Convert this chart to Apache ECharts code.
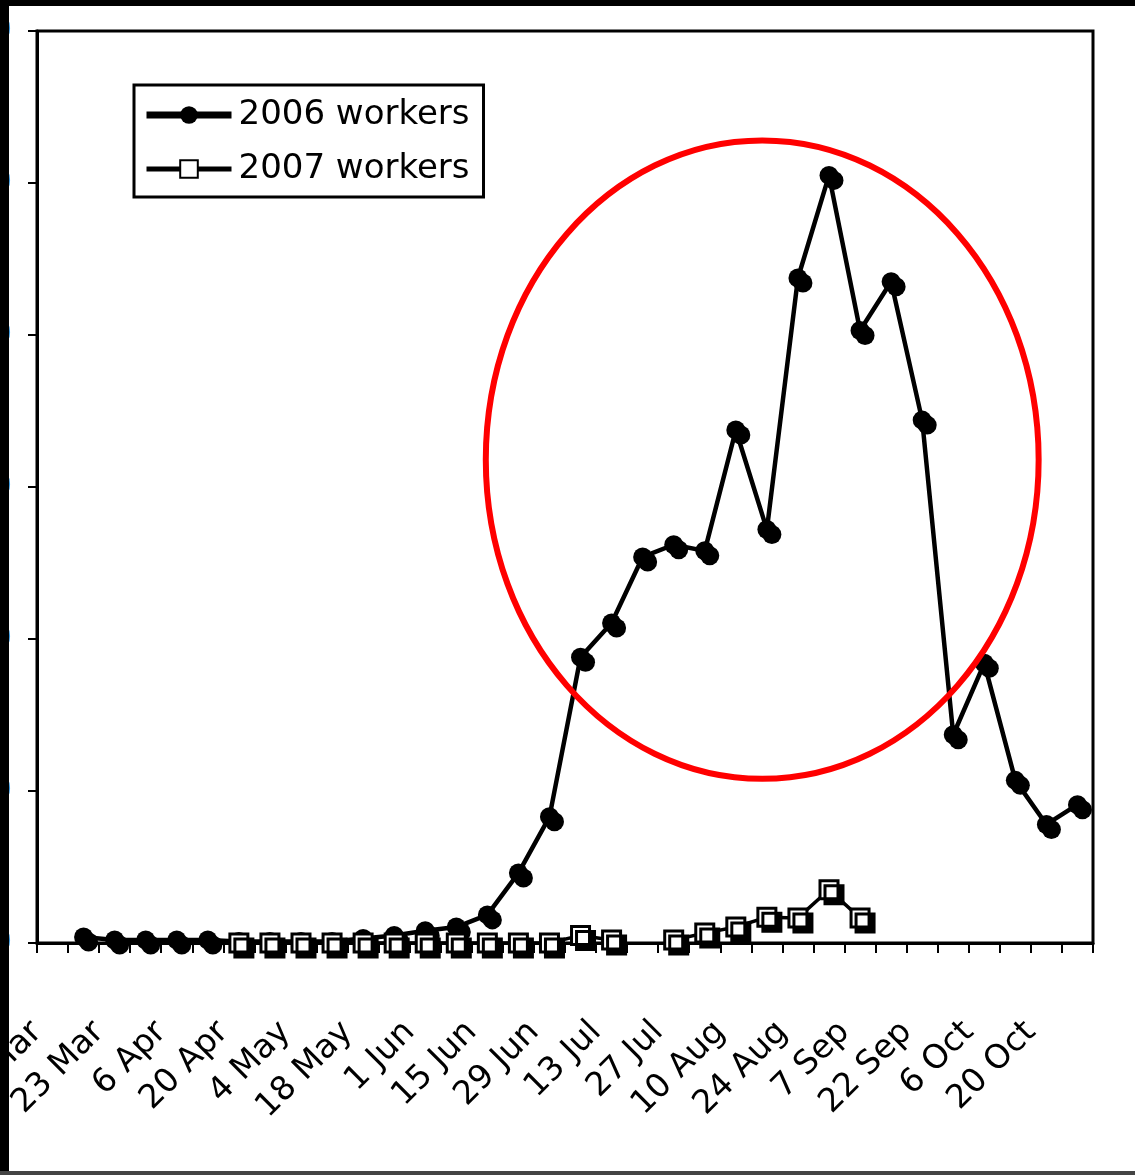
<!DOCTYPE html>
<html>
<head>
<meta charset="utf-8">
<script src="https://cdn.jsdelivr.net/npm/echarts@6/dist/echarts.min.js"></script>
<style>
  html, body { margin: 0; padding: 0; background: #fff; }
  #chart { width: 1135px; height: 1175px; }
</style>
</head>
<body>
<div id="chart"></div>
<script>
// weekly slots, one every 7 days from 9 Mar; tick labels every 2 weeks
let tickLabels = ['9 Mar', '23 Mar', '6 Apr', '20 Apr', '4 May', '18 May', '1 Jun', '15 Jun',
  '29 Jun', '13 Jul', '27 Jul', '10 Aug', '24 Aug', '7 Sep', '22 Sep', '6 Oct', '20 Oct']
let workers2006 = [null, 0.4, 0.2, 0.2, 0.2, 0.2, 0.1, 0.1, 0.1, 0.1, 0.3, 0.5, 0.8, 1.05, 1.85,
  4.6, 8.3, 18.8, 21.05, 25.4, 26.2, 25.8, 33.75, 27.2, 43.75, 50.5, 40.3, 43.5, 34.4, 13.7,
  18.4, 10.7, 7.8, 9.1]
let workers2007 = [null, null, null, null, null, null, 0, 0, 0, 0, 0, 0, 0, 0, 0, 0, 0, 0.5, 0.2,
  null, 0.2, 0.65, 1.05, 1.7, 1.65, 3.5, 1.65, null, null, null, null, null, null, null]
let weekCount = 34
// highlighted region (data units): centre week, centre value, half width, half height
let ringCentre = [23.35, 31.8]
let ringHalf = [8.9, 21.0]

let font = 'DejaVu Sans, Verdana, sans-serif'

function toPairs(arr) {
  // put each weekly value in the middle of its slot
  return arr.map((v, i) => [i + 0.5, v])
}

let chart = echarts.init(document.getElementById('chart'))
let shadow = {
  shadowColor: '#000',
  shadowBlur: 0,
  shadowOffsetX: 5,
  shadowOffsetY: 5
}
let noShadow = {
  shadowColor: 'rgba(0,0,0,0)',
  shadowOffsetX: 0,
  shadowOffsetY: 0
}
const options = {
  backgroundColor: '#fff',
  animation: false,
  grid: {
    left: 37,
    right: 42,
    top: 31,
    bottom: 232,
    containLabel: false,
    outerBoundsMode: 'none',
    show: true,
    borderColor: '#000',
    borderWidth: 3
  },
  legend: {
    orient: 'vertical',
    left: 134,
    top: 85,
    padding: [13, 14, 11, 9],
    itemWidth: 85,
    itemHeight: 22,
    itemGap: 20,
    borderColor: '#000',
    borderWidth: 3,
    textStyle: {
      fontFamily: font,
      fontSize: 34,
      color: '#000',
      padding: [0, 0, 0, 2]
    },
    data: [
      { name: '2006 workers', lineStyle: { width: 7 }, itemStyle: noShadow },
      { name: '2007 workers', lineStyle: { width: 5 }, itemStyle: noShadow }
    ]
  },
  xAxis: {
    type: 'value',
    min: 0,
    max: weekCount,
    interval: 1,
    splitLine: { show: false },
    axisLine: { lineStyle: { color: '#000', width: 3 } },
    axisTick: { length: 10, lineStyle: { color: '#000', width: 2 } },
    axisLabel: {
      rotate: 45,
      margin: 84,
      fontFamily: font,
      fontSize: 33,
      color: '#000',
      showMaxLabel: true,
      showMinLabel: true,
      formatter: function (v) {
        if (v % 2 !== 0) return ''
        return tickLabels[v / 2] || ''
      }
    }
  },
  yAxis: {
    type: 'value',
    min: 0,
    max: 60,
    interval: 10,
    splitLine: { show: false },
    axisLine: { lineStyle: { color: '#000', width: 3 } },
    axisTick: { length: 9, lineStyle: { color: '#000', width: 2 } },
    axisLabel: {
      margin: 25,
      fontFamily: font,
      fontSize: 30,
      color: '#3d9be0'
    }
  },
  series: [
    {
      name: '2006 workers',
      type: 'line',
      data: toPairs(workers2006),
      symbol: 'circle',
      symbolSize: 19,
      connectNulls: false,
      lineStyle: { color: '#000', width: 4.5 },
      itemStyle: Object.assign({ color: '#000', borderColor: '#000', borderWidth: 0 }, shadow),
      z: 2
    },
    {
      name: '2007 workers',
      type: 'line',
      data: toPairs(workers2007),
      symbol: 'rect',
      symbolSize: 18,
      connectNulls: false,
      lineStyle: { color: '#000', width: 3.5 },
      itemStyle: Object.assign({ color: '#fff', borderColor: '#000', borderWidth: 3 }, shadow),
      z: 3
    }
  ]
}
chart.setOption(options)

// red ring around the 2006 peak, placed through the axes
let c = chart.convertToPixel({ gridIndex: 0 }, ringCentre)
let e = chart.convertToPixel({ gridIndex: 0 }, [ringCentre[0] + ringHalf[0], ringCentre[1] + ringHalf[1]])
chart.setOption({
  graphic: [
    {
      id: 'ring',
      type: 'ellipse',
      z: 50,
      shape: { cx: c[0], cy: c[1], rx: Math.abs(e[0] - c[0]), ry: Math.abs(c[1] - e[1]) },
      style: { fill: 'none', stroke: '#f00', lineWidth: 6 }
    },
    // scan frame round the picture
    { id: 'frameLeft', type: 'rect', z: 100, shape: { x: 0, y: 0, width: 9, height: 1175 }, style: { fill: '#000' } },
    { id: 'frameTop', type: 'rect', z: 100, shape: { x: 0, y: 0, width: 1135, height: 6 }, style: { fill: '#000' } },
    { id: 'frameBottom', type: 'rect', z: 100, shape: { x: 0, y: 1171, width: 1135, height: 4 }, style: { fill: '#444' } }
  ]
})
</script>
</body>
</html>
